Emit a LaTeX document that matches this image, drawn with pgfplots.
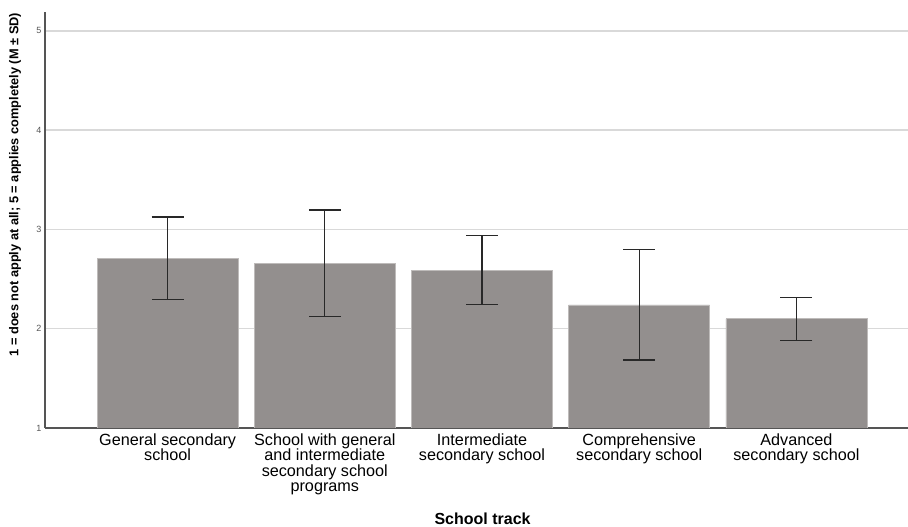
\documentclass[border=0pt]{standalone}
\usepackage{fontspec}
\setmainfont{Liberation Sans}
\usepackage{pgfplots}
\pgfplotsset{compat=1.18}
\definecolor{barfill}{RGB}{147,143,142}
\definecolor{baredge}{RGB}{190,187,186}
\definecolor{gridc}{RGB}{217,217,217}
\definecolor{axisc}{RGB}{85,85,85}
\definecolor{errc}{RGB}{40,40,40}
\begin{document}
\begin{tikzpicture}
\begin{axis}[
  at={(0,0)}, anchor=south west,
  scale only axis, width=863pt, height=416pt,
  xmin=-0.78, xmax=4.71, ymin=1, ymax=5.19,
  axis x line*=bottom, axis y line*=left,
  axis line style={-, draw=axisc, line width=1.2pt},
  ytick={1,2,3,4,5},
  xtick={0,1,2,3,4},
  xticklabels={{General secondary\\school},{School with general\\and intermediate\\secondary school\\programs},{Intermediate\\secondary school},{Comprehensive\\secondary school},{Advanced\\secondary school}},
  major tick length=0pt,
  ymajorgrids, grid style={gridc, line width=1.5pt},
  /pgf/number format/assume math mode=true,
  yticklabel style={font=\fontsize{9}{9}\selectfont, text=axisc},
  xticklabel style={font=\fontsize{16.2}{15.5}\selectfont, align=center, text=black, anchor=north, yshift=-2pt},
  ylabel={1 = does not apply at all; 5 = applies completely (M ± SD)},
  ylabel style={font=\bfseries\fontsize{12.8}{12.8}\selectfont, at={(axis description cs:0,0.585)}, anchor=center, yshift=30pt},
  xlabel={School track},
  xlabel style={font=\bfseries\fontsize{16}{16}\selectfont, at={(axis description cs:0.507,0)}, anchor=base, yshift=-96pt},
  clip=true,
]
\addplot[ybar, bar width=141pt, bar shift=0pt, fill=barfill, draw=baredge, line width=0.6pt,
  error bars/.cd, y dir=both, y explicit,
  error bar style={errc, line width=1.2pt},
  error mark options={rotate=90, errc, mark size=16pt, line width=1.2pt}]
coordinates {
  (0,2.71) +- (0,0.415)
  (1,2.66) +- (0,0.535)
  (2,2.59) +- (0,0.345)
  (3,2.24) +- (0,0.555)
  (4,2.10) +- (0,0.215)
};
\end{axis}
\pgfresetboundingbox
\useasboundingbox (-45pt,-99pt) rectangle (863pt,428pt);
\end{tikzpicture}
\end{document}
